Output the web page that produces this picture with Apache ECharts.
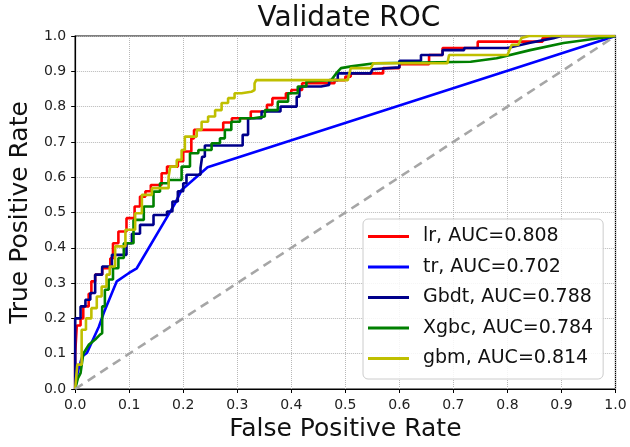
<!DOCTYPE html>
<html>
<head>
<meta charset="utf-8">
<script src="https://cdn.jsdelivr.net/npm/echarts@6/dist/echarts.min.js"></script>
<style>html,body{margin:0;padding:0;background:#fff;}#chart{width:630px;height:447px;}</style>
</head>
<body>
<div id="chart"></div>
<script>
const xTickLabels = ['0.0','0.1','0.2','0.3','0.4','0.5','0.6','0.7','0.8','0.9','1.0'];
const yTickLabels = ['0.0','0.1','0.2','0.3','0.4','0.5','0.6','0.7','0.8','0.9','1.0'];
const seriesNames = ['lr, AUC=0.808','tr, AUC=0.702','Gbdt, AUC=0.788','Xgbc, AUC=0.784','gbm, AUC=0.814'];

const lrPoints = [[0,0],[0,0.1],[0.003,0.1],[0.003,0.18],[0.01,0.18],[0.01,0.2],[0.015,0.2],[0.015,0.234],[0.025,0.234],[0.025,0.27],[0.03,0.27],[0.03,0.305],[0.037,0.305],[0.037,0.324],[0.05,0.324],[0.05,0.342],[0.065,0.342],[0.065,0.37],[0.07,0.37],[0.07,0.413],[0.08,0.413],[0.08,0.446],[0.095,0.446],[0.095,0.484],[0.11,0.484],[0.11,0.517],[0.12,0.517],[0.12,0.545],[0.13,0.545],[0.13,0.56],[0.14,0.56],[0.14,0.578],[0.16,0.578],[0.16,0.611],[0.17,0.611],[0.17,0.63],[0.19,0.63],[0.19,0.645],[0.2,0.645],[0.2,0.673],[0.215,0.673],[0.215,0.71],[0.22,0.71],[0.22,0.734],[0.274,0.734],[0.274,0.755],[0.29,0.755],[0.29,0.767],[0.325,0.767],[0.325,0.786],[0.355,0.786],[0.355,0.805],[0.365,0.805],[0.365,0.824],[0.39,0.824],[0.39,0.838],[0.4,0.838],[0.4,0.847],[0.42,0.847],[0.42,0.866],[0.48,0.866],[0.48,0.875],[0.5,0.875],[0.5,0.885],[0.51,0.885],[0.51,0.894],[0.57,0.894],[0.57,0.909],[0.6,0.909],[0.6,0.92],[0.655,0.92],[0.655,0.946],[0.68,0.946],[0.68,0.966],[0.745,0.966],[0.745,0.984],[0.865,0.984],[0.865,0.994],[0.88,0.994],[0.88,1],[1,1]];

const trPoints = [[0,0],[0.005,0.05],[0.013,0.092],[0.022,0.103],[0.044,0.177],[0.053,0.216],[0.077,0.305],[0.099,0.328],[0.114,0.342],[0.185,0.526],[0.197,0.564],[0.245,0.628],[1,1]];

const gbdtPoints = [[0,0],[0,0.2],[0.01,0.2],[0.01,0.234],[0.019,0.234],[0.019,0.253],[0.028,0.253],[0.028,0.272],[0.037,0.272],[0.037,0.324],[0.05,0.324],[0.05,0.347],[0.068,0.347],[0.068,0.38],[0.095,0.38],[0.095,0.413],[0.105,0.413],[0.105,0.44],[0.12,0.44],[0.12,0.465],[0.145,0.465],[0.145,0.493],[0.17,0.493],[0.17,0.503],[0.18,0.503],[0.18,0.531],[0.19,0.531],[0.19,0.56],[0.2,0.56],[0.2,0.583],[0.206,0.583],[0.206,0.607],[0.232,0.607],[0.232,0.626],[0.235,0.626],[0.235,0.658],[0.24,0.658],[0.24,0.69],[0.31,0.69],[0.31,0.72],[0.32,0.72],[0.32,0.767],[0.345,0.767],[0.345,0.786],[0.38,0.786],[0.38,0.8],[0.41,0.8],[0.41,0.828],[0.415,0.828],[0.415,0.852],[0.42,0.857],[0.455,0.857],[0.455,0.861],[0.47,0.861],[0.47,0.875],[0.486,0.875],[0.486,0.894],[0.547,0.894],[0.55,0.906],[0.6,0.911],[0.6,0.93],[0.64,0.93],[0.64,0.946],[0.68,0.946],[0.68,0.96],[0.72,0.96],[0.72,0.966],[0.8,0.966],[0.84,0.98],[0.885,0.994],[0.9,1],[1,1]];

const xgbcPoints = [[0,0],[0.005,0.03],[0.01,0.045],[0.015,0.1],[0.025,0.125],[0.037,0.14],[0.046,0.154],[0.05,0.158],[0.05,0.234],[0.055,0.234],[0.055,0.281],[0.062,0.281],[0.062,0.31],[0.07,0.31],[0.07,0.342],[0.08,0.342],[0.08,0.371],[0.09,0.371],[0.09,0.413],[0.108,0.413],[0.108,0.479],[0.127,0.479],[0.127,0.517],[0.145,0.517],[0.145,0.559],[0.157,0.559],[0.157,0.583],[0.173,0.583],[0.173,0.592],[0.197,0.592],[0.197,0.63],[0.2125,0.63],[0.2125,0.668],[0.228,0.668],[0.228,0.677],[0.2525,0.677],[0.2525,0.696],[0.268,0.696],[0.268,0.71],[0.277,0.71],[0.277,0.734],[0.289,0.734],[0.289,0.757],[0.305,0.757],[0.305,0.767],[0.33,0.767],[0.33,0.772],[0.351,0.772],[0.351,0.79],[0.375,0.79],[0.375,0.814],[0.394,0.814],[0.394,0.838],[0.412,0.838],[0.412,0.857],[0.428,0.857],[0.428,0.871],[0.474,0.875],[0.483,0.894],[0.492,0.909],[0.511,0.914],[0.554,0.923],[0.732,0.927],[0.78,0.937],[0.842,0.96],[0.904,0.98],[1,1]];

const gbmPoints = [[0,0],[0.004,0.069],[0.012,0.069],[0.012,0.168],[0.02,0.168],[0.02,0.2],[0.03,0.2],[0.03,0.229],[0.04,0.229],[0.04,0.262],[0.049,0.262],[0.049,0.29],[0.058,0.29],[0.058,0.324],[0.064,0.324],[0.064,0.347],[0.074,0.347],[0.074,0.404],[0.093,0.404],[0.093,0.451],[0.111,0.451],[0.111,0.498],[0.1235,0.498],[0.1235,0.55],[0.142,0.55],[0.142,0.569],[0.173,0.569],[0.173,0.602],[0.176,0.602],[0.176,0.63],[0.188,0.63],[0.188,0.649],[0.197,0.649],[0.197,0.677],[0.203,0.677],[0.203,0.715],[0.225,0.715],[0.225,0.734],[0.234,0.734],[0.234,0.757],[0.246,0.757],[0.246,0.772],[0.259,0.772],[0.259,0.79],[0.271,0.79],[0.271,0.81],[0.283,0.81],[0.283,0.824],[0.295,0.824],[0.295,0.838],[0.308,0.838],[0.308,0.842],[0.326,0.842],[0.326,0.847],[0.332,0.847],[0.332,0.866],[0.335,0.866],[0.335,0.875],[0.5045,0.875],[0.51,0.909],[0.547,0.909],[0.552,0.923],[0.689,0.923],[0.692,0.946],[0.8,0.946],[0.808,0.975],[0.82,0.975],[0.826,0.994],[0.84,1],[1,1]];

const chancePoints = [[0,0],[1,1]];
const seriesColors = ['#ff0000','#0000ff','#00008b','#008000','#bfbf00'];

const font = 'DejaVu Sans';
const chart = echarts.init(document.getElementById('chart'), null, {renderer:'canvas'});
const curves = [lrPoints, trPoints, gbdtPoints, xgbcPoints, gbmPoints];
const series = curves.map((pts, i) => ({
  name: seriesNames[i], type: 'line', data: pts, showSymbol: false, symbol: 'none',
  lineStyle: {width: 2.6, color: seriesColors[i]}, itemStyle: {color: seriesColors[i]},
  animation: false, z: 2 + i
}));
series.push({
  name: 'chance', type: 'line', data: chancePoints, showSymbol: false, symbol: 'none',
  lineStyle: {width: 2.6, color: '#a6a6a6', type: [9, 6]}, animation: false, z: 8
});

chart.setOption({
  animation: false,
  backgroundColor: '#fff',
  title: {
    text: 'Validate ROC', left: 344, top: 0, textAlign: 'center',
    textStyle: {fontFamily: font, fontSize: 28, fontWeight: 'normal', color: '#111'}
  },
  grid: {left: 73, right: 14.5, top: 36, bottom: 58, show: true, borderColor: '#000', borderWidth: 1.2},
  legend: {
    orient: 'vertical', left: 363, top: 219,
    padding: [8, 10, 11, 5], itemGap: 11.5, itemWidth: 41, itemHeight: 3, icon: 'rect',
    backgroundColor: 'rgba(255,255,255,0.85)', borderColor: '#cccccc', borderWidth: 1, borderRadius: 5,
    textStyle: {fontFamily: font, fontSize: 19, color: '#111', padding: [0, 0, 0, 9]},
    data: seriesNames
  },
  xAxis: {
    type: 'value', min: 0, max: 1, interval: 0.1,
    name: 'False Positive Rate', nameLocation: 'middle', nameGap: 28,
    nameTextStyle: {fontFamily: font, fontSize: 25, color: '#111'},
    axisLine: {lineStyle: {color: '#000', width: 1.2}},
    axisTick: {show: true, length: 4, lineStyle: {color: '#000'}},
    axisLabel: {fontFamily: font, fontSize: 14, color: '#222', margin: 9,
      formatter: v => xTickLabels[Math.round(v * 10)]},
    splitLine: {show: true, lineStyle: {color: '#b8b8b8', type: 'dotted', width: 1}}
  },
  yAxis: {
    type: 'value', min: 0, max: 1, interval: 0.1,
    name: 'True Positive Rate', nameLocation: 'middle', nameGap: 42,
    nameTextStyle: {fontFamily: font, fontSize: 25, color: '#111'},
    axisLine: {show: true, lineStyle: {color: '#000', width: 1.2}},
    axisTick: {show: true, length: 4, lineStyle: {color: '#000'}},
    axisLabel: {fontFamily: font, fontSize: 14, color: '#222', margin: 9,
      formatter: v => yTickLabels[Math.round(v * 10)]},
    splitLine: {show: true, lineStyle: {color: '#b8b8b8', type: 'dotted', width: 1}}
  },
  series: series
});
</script>
</body>
</html>
